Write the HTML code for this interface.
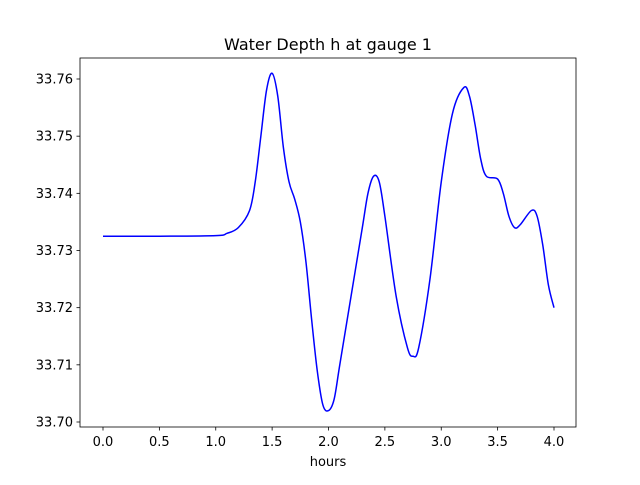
<!DOCTYPE html>
<html><head><meta charset="utf-8"><style>
html,body{margin:0;padding:0;background:#fff;}
svg text{font-family:"DejaVu Sans","Liberation Sans",sans-serif;font-size:13px;fill:#000;}
</style></head><body>
<svg id="chart" width="640" height="480" xmlns="http://www.w3.org/2000/svg">
<rect width="640" height="480" fill="#fff"/>
<text x="328" y="50" text-anchor="middle" style="font-size:16px">Water Depth h at gauge 1</text>
<g id="xt"></g>
<g id="yt"></g>
<path id="line" fill="none" stroke="#0000ff" stroke-width="1.5"/>
<rect x="80" y="58" width="496" height="369" fill="none" stroke="#000" stroke-width="0.8"/>
<text x="328" y="466" text-anchor="middle">hours</text>
</svg>
<script>
const hours=[0,0.5,1.0,1.1,1.2,1.3,1.35,1.4,1.45,1.5,1.55,1.6,1.65,1.7,1.75,1.8,1.85,1.9,1.95,2.0,2.05,2.1,2.2,2.3,2.35,2.4,2.45,2.5,2.6,2.7,2.75,2.8,2.9,3.0,3.1,3.2,3.25,3.3,3.35,3.4,3.5,3.55,3.6,3.65,3.7,3.8,3.85,3.9,3.95,4.0];
const depth=[33.7325,33.7325,33.7326,33.733,33.734,33.737,33.742,33.750,33.758,33.761,33.757,33.748,33.742,33.739,33.735,33.728,33.718,33.709,33.703,33.702,33.704,33.710,33.722,33.734,33.740,33.743,33.742,33.736,33.722,33.713,33.7115,33.713,33.725,33.742,33.754,33.7585,33.757,33.752,33.746,33.743,33.7425,33.740,33.736,33.734,33.7345,33.737,33.736,33.731,33.724,33.720];
const xTicks=[0,0.5,1.0,1.5,2.0,2.5,3.0,3.5,4.0];
const yTicks=[33.70,33.71,33.72,33.73,33.74,33.75,33.76];
const X=v=>103+v*112.75;
const Y=v=>422-(v-33.70)*5716.7;
const NS="http://www.w3.org/2000/svg";
const xt=document.getElementById('xt'),yt=document.getElementById('yt');
xTicks.forEach(t=>{
 const l=document.createElementNS(NS,'line');
 l.setAttribute('x1',X(t));l.setAttribute('x2',X(t));l.setAttribute('y1',427);l.setAttribute('y2',430.5);l.setAttribute('stroke','#000');l.setAttribute('stroke-width','0.8');
 
 
 xt.appendChild(l);
 const s=document.createElementNS(NS,'text');
 s.setAttribute('x',X(t));s.setAttribute('y',446);s.setAttribute('text-anchor','middle');s.textContent=t.toFixed(1);
 
 
 xt.appendChild(s);
});
yTicks.forEach(t=>{
 const l=document.createElementNS(NS,'line');
 l.setAttribute('x1',76.5);l.setAttribute('x2',80);l.setAttribute('y1',Y(t));l.setAttribute('y2',Y(t));l.setAttribute('stroke','#000');l.setAttribute('stroke-width','0.8');
 
 
 yt.appendChild(l);
 const s=document.createElementNS(NS,'text');
 s.setAttribute('x',73);s.setAttribute('y',Y(t)+4.5);s.setAttribute('text-anchor','end');s.textContent=t.toFixed(2);
 
 
 yt.appendChild(s);
});
const pts=hours.map((h,i)=>[X(h),Y(depth[i])]);
let d='M'+pts[0][0]+','+pts[0][1];
for(let i=0;i<pts.length-1;i++){
 const p0=pts[i-1]||pts[i],p1=pts[i],p2=pts[i+1],p3=pts[i+2]||p2;
 const c1=[p1[0]+(p2[0]-p0[0])/6,p1[1]+(p2[1]-p0[1])/6];
 const c2=[p2[0]-(p3[0]-p1[0])/6,p2[1]-(p3[1]-p1[1])/6];
 d+=' C'+c1+' '+c2+' '+p2;
}
document.getElementById('line').setAttribute('d',d);
</script>
</body></html>
